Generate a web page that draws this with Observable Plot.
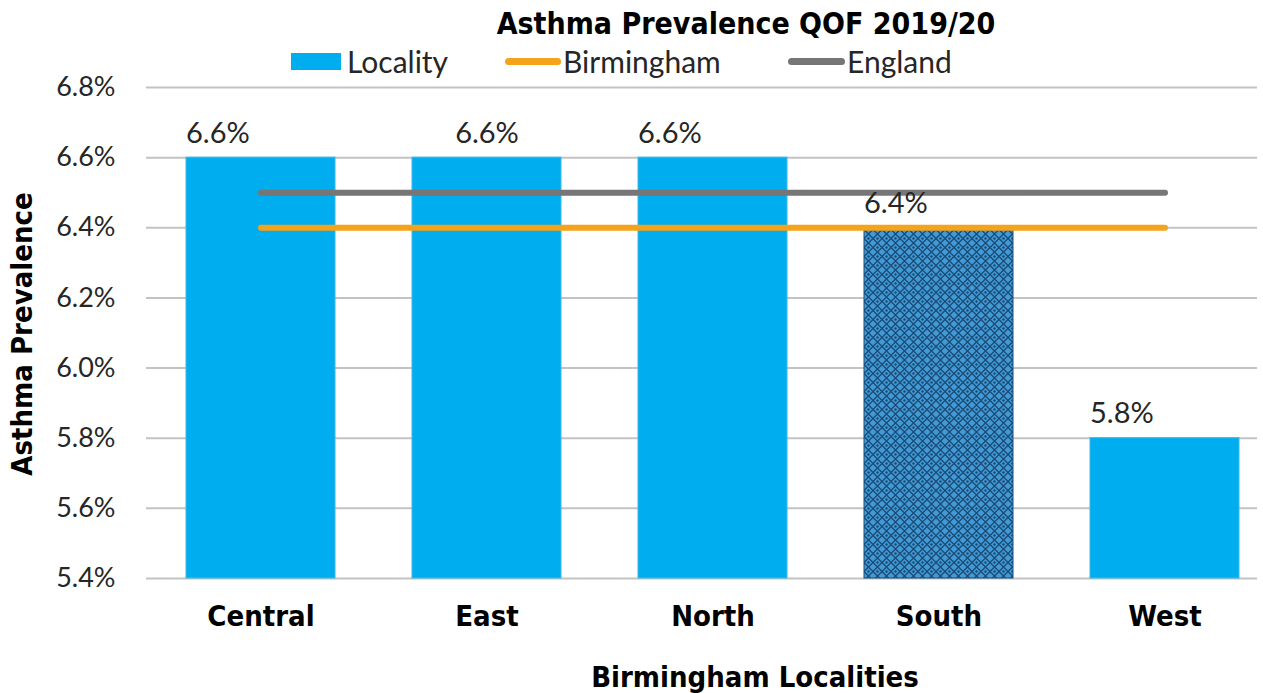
<!DOCTYPE html>
<html>
<head>
<meta charset="utf-8">
<script src="https://cdn.jsdelivr.net/npm/d3@7"></script>
<script src="https://cdn.jsdelivr.net/npm/@observablehq/plot@0.6"></script>
<style>
  html, body { margin: 0; padding: 0; background: #fff; }
  #wrap { position: relative; width: 1263px; height: 693px; overflow: hidden; }
  .bold { font-family: "DejaVu Sans Condensed", "DejaVu Sans", sans-serif; font-stretch: condensed; font-weight: bold; color: #000; }
  .light { font-family: Lato, "Open Sans", sans-serif; font-weight: 400; color: #262626; }
  .abs { position: absolute; white-space: nowrap; line-height: 1; }
  #title { left: 0; width: 1492px; text-align: center; top: 9px; font-size: 30px; }
  .sw { position: absolute; }
  .lg { font-size: 30px; }
  #xlabel { left: 0; width: 1510px; text-align: center; top: 663px; font-size: 29px; }
  #ylabel { left: 22px; top: 334px; font-size: 29px; transform: translate(-50%, -50%) rotate(-90deg); }
  #chart { position: absolute; left: 0; top: 0; }
</style>
</head>
<body>
<div id="wrap">
  <div id="chart"></div>
  <div id="title" class="abs bold">Asthma Prevalence QOF 2019/20</div>
  <div class="sw" style="left:291px;top:53px;width:50px;height:17px;background:#00ADEF"></div>
  <div class="abs light lg" style="left:347px;top:46px">Locality</div>
  <div class="sw" style="left:505px;top:58px;width:56px;height:7px;border-radius:4px;background:#F5A31A"></div>
  <div class="abs light lg" style="left:563px;top:46px">Birmingham</div>
  <div class="sw" style="left:788px;top:58px;width:57px;height:7px;border-radius:4px;background:#767676"></div>
  <div class="abs light lg" style="left:847px;top:46px">England</div>
  <div id="ylabel" class="abs bold">Asthma Prevalence</div>
  <div id="xlabel" class="abs bold">Birmingham Localities</div>
</div>
<script>
const localities = ["Central", "East", "North", "South", "West"];
const localityValues = [6.6, 6.6, 6.6, 6.4, 5.8];
const birminghamValues = [6.4, 6.4, 6.4, 6.4, 6.4];
const englandValues = [6.5, 6.5, 6.5, 6.5, 6.5];
const yTicks = [5.4, 5.6, 5.8, 6.0, 6.2, 6.4, 6.6, 6.8];
const yBase = 5.4;
const highlighted = "South";
const centredLabels = ["East"];

const bars = localities.map((c, i) => ({cat: c, value: localityValues[i]}));
const birm = localities.map((c, i) => ({cat: c, value: birminghamValues[i]}));
const eng = localities.map((c, i) => ({cat: c, value: englandValues[i]}));
const pct = d => d.value.toFixed(1) + "%";

const chart = Plot.plot({
  width: 1263,
  height: 693,
  marginTop: 87,
  marginBottom: 115,
  marginLeft: 146,
  marginRight: 6,
  style: {fontFamily: "Lato, 'Open Sans', sans-serif", background: "transparent"},
  x: {domain: localities, paddingInner: 0.339, paddingOuter: 0.1167, align: 0.7},
  y: {domain: [5.4, 6.8]},
  marks: [
    Plot.gridY(yTicks, {stroke: "#c3c3c3", strokeOpacity: 1, strokeWidth: 2}),
    Plot.barY(bars, {
      x: "cat", y1: () => yBase, y2: "value",
      fill: d => d.cat === highlighted ? "url(#southPat)" : "#00ADEF",
      stroke: d => d.cat === highlighted ? "#1b4f7a" : "#3bb8ea", strokeWidth: 1
    }),
    Plot.lineY(eng, {x: "cat", y: "value", stroke: "#767676", strokeWidth: 6, strokeLinecap: "round"}),
    Plot.lineY(birm, {x: "cat", y: "value", stroke: "#F5A31A", strokeWidth: 6, strokeLinecap: "round"}),
    Plot.text(bars.filter(d => !centredLabels.includes(d.cat)), {x: "cat", y: "value", text: pct, dy: -24, dx: -75, textAnchor: "start", fontSize: 29, fill: "#262626"}),
    Plot.text(bars.filter(d => centredLabels.includes(d.cat)), {x: "cat", y: "value", text: pct, dy: -24, fontSize: 29, fill: "#262626"}),
    Plot.axisY({ticks: yTicks, tickFormat: d => d.toFixed(1) + "%", tickSize: 0, tickPadding: 31, fontSize: 27, fill: "#262626", label: null}),
    Plot.axisX({tickSize: 0, tickPadding: 27, fontSize: 29, fontWeight: "bold", fontFamily: "'DejaVu Sans Condensed', 'DejaVu Sans', sans-serif", fill: "#000", label: null})
  ]
});

// pattern definition for the highlighted bar
const ns = "http://www.w3.org/2000/svg";
const defs = document.createElementNS(ns, "defs");
const pat = document.createElementNS(ns, "pattern");
pat.setAttribute("id", "southPat");
pat.setAttribute("patternUnits", "userSpaceOnUse");
pat.setAttribute("width", "9");
pat.setAttribute("height", "9");
const bg = document.createElementNS(ns, "rect");
bg.setAttribute("width", "9"); bg.setAttribute("height", "9"); bg.setAttribute("fill", "#3f9ad6");
const dia = document.createElementNS(ns, "path");
dia.setAttribute("d", "M0 4.5 L4.5 0 L9 4.5 L4.5 9 Z");
dia.setAttribute("fill", "none"); dia.setAttribute("stroke", "#1a4a73"); dia.setAttribute("stroke-width", "1.3");
const dot = document.createElementNS(ns, "circle");
dot.setAttribute("cx", "4.5"); dot.setAttribute("cy", "4.5"); dot.setAttribute("r", "1.2"); dot.setAttribute("fill", "#1a4a73");
pat.append(bg, dia, dot);
defs.append(pat);
chart.insertBefore(defs, chart.firstChild);

document.getElementById("chart").append(chart);
</script>
</body>
</html>
